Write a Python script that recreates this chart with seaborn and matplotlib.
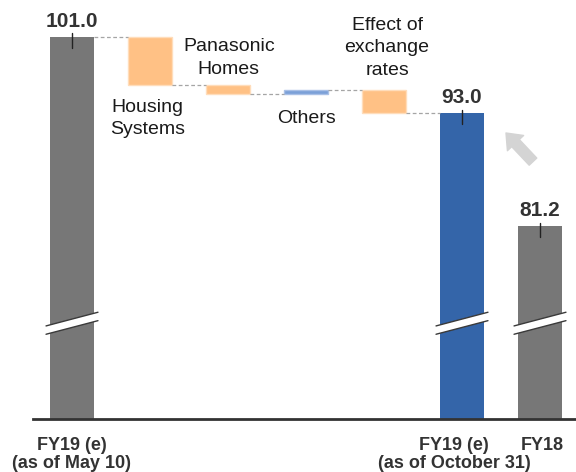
import numpy as np
import pandas as pd
import matplotlib
matplotlib.use("Agg")
import matplotlib.pyplot as plt
import matplotlib.transforms as mtransforms
from matplotlib.patches import Polygon
import seaborn as sns

# ---- data (billion yen) ----
categories = ["FY19 (e)\n(as of May 10)", "Housing\nSystems", "Panasonic\nHomes",
              "Others", "Effect of\nexchange\nrates", "FY19 (e)\n(as of October 31)", "FY18"]
start_total = 101.0
step_deltas = [-5.0, -1.0, 0.4, -2.4]
end_total = 93.0
prior_year = 81.2
total_labels = ["101.0", "93.0", "81.2"]

sns.set_theme(style="white")
plt.rcParams["font.family"] = ["Liberation Sans", "DejaVu Sans"]

GRAY = "#777777"
BLUE = "#3465A9"
ORANGE = "#FFC185"
LIGHT_BLUE = "#7BA0D8"
DARK = "#333333"

fig = plt.figure(figsize=(5.76, 4.72), dpi=100)
ax = fig.add_axes([33 / 576, (472 - 419) / 472, 1 - 33 / 576, 419 / 472])

width = 44 / 78
order = categories

# totals
totals = pd.DataFrame({
    "cat": [categories[0], categories[5], categories[6]],
    "value": [start_total, end_total, prior_year],
    "kind": ["plan", "revised", "actual"],
})
sns.barplot(data=totals, x="cat", y="value", hue="kind", order=order,
            palette={"plan": GRAY, "revised": BLUE, "actual": GRAY},
            width=width, saturation=1, errorbar=None, legend=False, ax=ax,
            dodge=False, linewidth=0)

# floating steps
levels = [start_total]
for d in step_deltas:
    levels.append(levels[-1] + d)
for i, d in enumerate(step_deltas):
    lo = min(levels[i], levels[i + 1])
    colour = LIGHT_BLUE if d > 0 else ORANGE
    edge = "#A9C0E6" if d > 0 else "#FFDDBB"
    step = pd.DataFrame({"cat": [categories[i + 1]], "h": [abs(d)]})
    sns.barplot(data=step, x="cat", y="h", order=order, color=colour,
                bottom=lo, width=width, saturation=1, errorbar=None, ax=ax,
                linewidth=1, edgecolor=edge)

# dashed connectors between neighbouring bars
for i in range(5):
    y = levels[i] if i < len(levels) else end_total
    ax.plot([i + width / 2, i + 1 - width / 2], [y, y], color="#A5A5A5",
            lw=0.9, ls=(0, (3, 2)), zorder=1)

ax.set_xlim(-0.5, (576 - 72) / 78)
ax.set_ylim(61.07, 104.83)

# value markers and labels on totals
total_pos = [0, 5, 6]
total_vals = [start_total, end_total, prior_year]
for x, v, lab in zip(total_pos, total_vals, total_labels):
    ax.plot([x, x], [v + 0.38, v - 1.15], color="#222222", lw=1, zorder=5)
    ax.text(x, v + 1.05, lab, ha="center", va="baseline", fontsize=15,
            fontweight="bold", color=DARK)

# step labels
step_text = [(0.97, 92.48), (2.01, 98.78), (3.0, 92.41), (4.04, 99.83)]
for (x, y), lab in zip(step_text, categories[1:5]):
    ax.text(x, y, lab, ha="center", va="center", fontsize=14,
            color="#1a1a1a", linespacing=1.4)

# axis break marks
for x in total_pos:
    x0, x1 = x - width / 2 - 0.051, x + width / 2 + 0.051
    up = (70.79, 72.22)
    lo = (69.92, 71.34)
    ax.add_patch(Polygon([[x0, lo[0]], [x1, lo[1]], [x1, up[1]], [x0, up[0]]],
                         closed=True, facecolor="white", edgecolor="none", zorder=4))
    ax.plot([x0, x1], up, color="#3a3a3a", lw=1, zorder=5)
    ax.plot([x0, x1], lo, color="#3a3a3a", lw=1, zorder=5)

# trend arrow
ax.annotate("", xy=(5.564, 90.94), xytext=(5.91, 87.95),
            arrowprops=dict(arrowstyle="simple,head_length=1.0,head_width=1.6,tail_width=0.75",
                            color="#D4D4D4", shrinkA=0, shrinkB=0, mutation_scale=10))

# category labels under the axis, one text per line
ax.set_xticks([])
ax.set_yticks([])
ax.set_xlabel("")
ax.set_ylabel("")
trans = mtransforms.blended_transform_factory(ax.transData, ax.transAxes)
label_x = [0, (454 - 72) / 78, (542.5 - 72) / 78]
for x, lab in zip(label_x, [categories[0], categories[5], categories[6]]):
    for k, line in enumerate(lab.split("\n")):
        ax.text(x, [-0.074, -0.1162][k], line, transform=trans, ha="center",
                va="baseline", fontsize=13, fontweight="bold", color=DARK,
                clip_on=False)

for s in ["left", "right", "top"]:
    ax.spines[s].set_visible(False)
ax.spines["bottom"].set_color("#333333")
ax.spines["bottom"].set_linewidth(2)

fig.savefig("out.png", dpi=100)
